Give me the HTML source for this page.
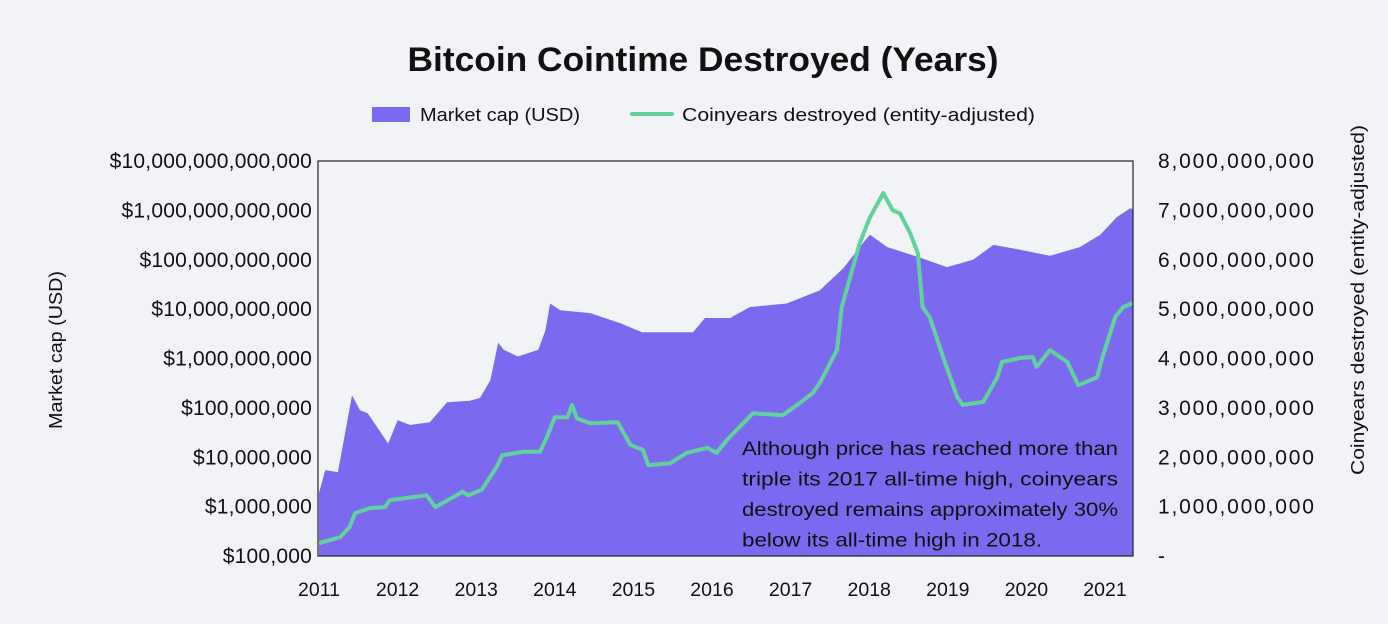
<!DOCTYPE html>
<html><head><meta charset="utf-8">
<style>
html,body{margin:0;padding:0;background:#f2f3f6;}
svg{display:block;font-family:"Liberation Sans",sans-serif;}
</style></head>
<body>
<svg id="chart" width="1388" height="624" viewBox="0 0 1388 624" xmlns="http://www.w3.org/2000/svg">
<rect x="0" y="0" width="1388" height="624" fill="#f2f3f6"/>
<text x="703" y="71" text-anchor="middle" font-size="34" font-weight="bold" fill="#111" textLength="591" lengthAdjust="spacingAndGlyphs">Bitcoin Cointime Destroyed (Years)</text>
<g>
<rect x="372" y="107" width="38" height="15" fill="#7b6af0"/>
<text x="420" y="121" font-size="18.5" fill="#111" textLength="160" lengthAdjust="spacingAndGlyphs">Market cap (USD)</text>
<line x1="632" y1="114" x2="672" y2="114" stroke="#5fd39b" stroke-width="4" stroke-linecap="round"/>
<text x="682" y="121" font-size="18.5" fill="#111" textLength="353" lengthAdjust="spacingAndGlyphs">Coinyears destroyed (entity-adjusted)</text>
</g>
<g id="plot"></g>
<text transform="translate(62,350) rotate(-90)" text-anchor="middle" font-size="18.5" fill="#111" textLength="158" lengthAdjust="spacingAndGlyphs">Market cap (USD)</text>
<text transform="translate(1364,300) rotate(-90)" text-anchor="middle" font-size="18.5" fill="#111" textLength="350" lengthAdjust="spacingAndGlyphs">Coinyears destroyed (entity-adjusted)</text>
</svg>
<script>
const capYears=[2011.0,2011.08,2011.24,2011.31,2011.42,2011.52,2011.62,2011.88,2012.0,2012.16,2012.41,2012.63,2012.92,2013.05,2013.18,2013.28,2013.35,2013.53,2013.79,2013.88,2013.94,2014.07,2014.45,2014.83,2015.11,2015.40,2015.76,2015.91,2016.23,2016.48,2016.95,2017.37,2017.67,2017.95,2018.01,2018.23,2018.65,2018.99,2019.32,2019.58,2019.92,2020.30,2020.68,2020.94,2021.15,2021.32,2021.36];
const capValues=[1.9e6,5.5e6,5e6,2e7,1.8e8,9e7,7.8e7,1.9e7,5.6e7,4.5e7,5.1e7,1.3e8,1.4e8,1.6e8,3.6e8,2.1e9,1.5e9,1.1e9,1.5e9,3.7e9,1.3e10,9.5e9,8.3e9,5.2e9,3.4e9,3.4e9,3.4e9,6.6e9,6.6e9,1.1e10,1.3e10,2.4e10,6.7e10,2.5e11,3.2e11,1.8e11,1.1e11,7.1e10,1e11,2e11,1.6e11,1.2e11,1.8e11,3.2e11,7.3e11,1.1e12,1.05e12];
const cydYears=[2011.0,2011.27,2011.39,2011.46,2011.65,2011.84,2011.90,2012.37,2012.48,2012.83,2012.90,2013.07,2013.26,2013.33,2013.60,2013.81,2013.90,2014.0,2014.16,2014.22,2014.28,2014.45,2014.80,2014.96,2015.12,2015.19,2015.47,2015.68,2015.94,2016.06,2016.19,2016.52,2016.90,2017.12,2017.28,2017.37,2017.59,2017.65,2017.88,2018.01,2018.18,2018.30,2018.39,2018.52,2018.62,2018.68,2018.77,2018.94,2019.12,2019.19,2019.45,2019.63,2019.69,2019.92,2020.08,2020.13,2020.30,2020.52,2020.66,2020.90,2020.97,2021.13,2021.23,2021.35];
const cydValues=[0.26,0.38,0.59,0.87,0.97,0.99,1.13,1.23,0.99,1.30,1.23,1.34,1.80,2.04,2.11,2.11,2.41,2.81,2.81,3.06,2.79,2.69,2.71,2.25,2.15,1.84,1.88,2.09,2.19,2.09,2.35,2.89,2.85,3.10,3.30,3.50,4.17,5.04,6.34,6.86,7.35,7.00,6.94,6.54,6.13,5.04,4.84,4.03,3.22,3.06,3.12,3.62,3.93,4.01,4.03,3.83,4.17,3.93,3.46,3.62,4.03,4.84,5.04,5.12].map(v=>v*1e9);
const xTicks=[2011,2012,2013,2014,2015,2016,2017,2018,2019,2020,2021];
const leftTickLabels=["$100,000","$1,000,000","$10,000,000","$100,000,000","$1,000,000,000","$10,000,000,000","$100,000,000,000","$1,000,000,000,000","$10,000,000,000,000"];
const rightTickLabels=["-","1,000,000,000","2,000,000,000","3,000,000,000","4,000,000,000","5,000,000,000","6,000,000,000","7,000,000,000","8,000,000,000"];

const NS="http://www.w3.org/2000/svg";
const L=318,R=1133,T=161,B=556;
const x=yr=>319+(yr-2011)*78.6;
const yL=v=>B-(Math.log10(v)-5)*(B-T)/8;
const yR=v=>B-v/1e9*(B-T)/8;
const plot=document.getElementById('plot');
function mk(tag,attrs){const e=document.createElementNS(NS,tag);for(const k in attrs)e.setAttribute(k,attrs[k]);return e;}

const cl=mk('clipPath',{id:'clip'});cl.appendChild(mk('rect',{x:L,y:T,width:R-L,height:B-T}));plot.appendChild(cl);
let d=`M${x(capYears[0])},${B}`;
capYears.forEach((yr,i)=>{d+=` L${x(yr).toFixed(1)},${yL(capValues[i]).toFixed(1)}`;});
d+=` L${x(capYears[capYears.length-1])},${B} Z`;
const area=mk('path',{d:d,fill:'#7b6af0','clip-path':'url(#clip)'});


plot.appendChild(area);

let d2='';
cydYears.forEach((yr,i)=>{d2+=(i?' L':'M')+x(yr).toFixed(1)+','+yR(cydValues[i]).toFixed(1);});
const line=mk('path',{d:d2,fill:'none',stroke:'#5fd39b','stroke-width':4,'stroke-linejoin':'round','clip-path':'url(#clip)'});


plot.appendChild(line);

const frame=mk('rect',{x:L,y:T,width:R-L,height:B-T,fill:'none',stroke:'#222','stroke-width':1.2});


plot.appendChild(frame);

xTicks.forEach(yr=>{const t=mk('text',{x:x(yr),y:596,'text-anchor':'middle','font-size':19.5,fill:'#111'});t.textContent=yr;


plot.appendChild(t);});
leftTickLabels.forEach((s,i)=>{const t=mk('text',{x:312,y:B-i*(B-T)/8+7,'text-anchor':'end','font-size':21,fill:'#111','letter-spacing':0.2});t.textContent=s;


plot.appendChild(t);});
rightTickLabels.forEach((s,i)=>{const t=mk('text',{x:1158,y:B-i*(B-T)/8+7,'text-anchor':'start','font-size':21,fill:'#111','letter-spacing':1.8});t.textContent=s;


plot.appendChild(t);});

const notes=["Although price has reached more than","triple its 2017 all-time high, coinyears","destroyed remains approximately 30%","below its all-time high in 2018."];
notes.forEach((s,i)=>{const t=mk('text',{x:742,y:455+i*30.5,'font-size':19,fill:'#111',textLength:i==3?300:376,lengthAdjust:'spacingAndGlyphs'});t.textContent=s;


plot.appendChild(t);});
</script>
</body></html>
